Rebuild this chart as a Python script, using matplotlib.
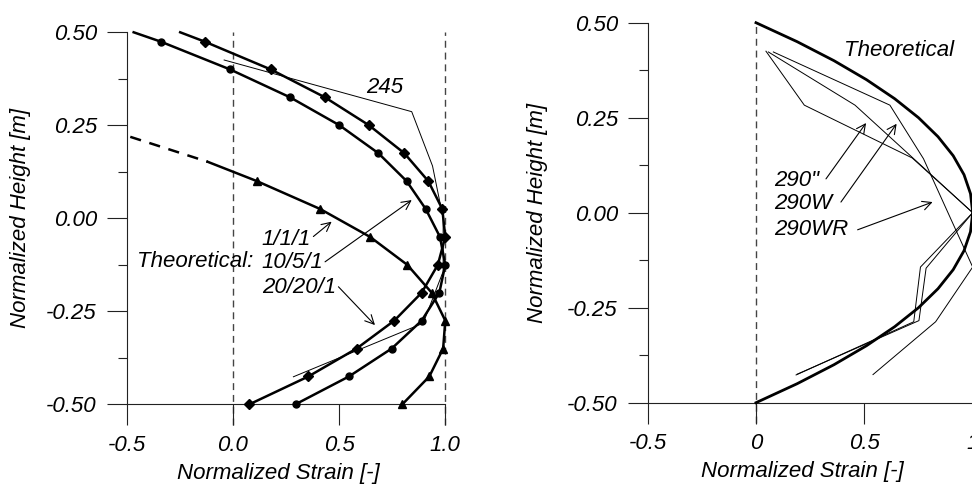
import numpy as np
import matplotlib
matplotlib.use("Agg")
import matplotlib.pyplot as plt

plt.rcParams['font.family'] = ['Liberation Sans', 'DejaVu Sans']
plt.rcParams['font.style'] = 'italic'
plt.rcParams['font.size'] = 16

# ---- left panel data ----
mk_y = [0.475, 0.4, 0.325, 0.25, 0.175, 0.1, 0.025, -0.05, -0.125, -0.2, -0.275, -0.35, -0.425, -0.5]
diam_start = (-0.248, 0.5)
diam_x = [-0.133, 0.179, 0.434, 0.641, 0.807, 0.920, 0.986, 1.0, 0.965, 0.889, 0.760, 0.583, 0.356, 0.078]
circ_start = (-0.467, 0.5)
circ_x = [-0.340, -0.0125, 0.270, 0.502, 0.685, 0.818, 0.908, 0.975, 1.0, 0.972, 0.889, 0.748, 0.547, 0.295]

tri_dash_x = [-0.483, -0.119]
tri_dash_y = [0.219, 0.152]
tri_y = [0.1, 0.025, -0.05, -0.125, -0.2, -0.275, -0.35, -0.425, -0.5]
tri_x = [0.113, 0.411, 0.646, 0.821, 0.936, 1.0, 0.99, 0.925, 0.798]

l245_x = [-0.041, 0.842, 0.940, 0.99, 0.99, 0.896, 0.285]
l245_y = [0.4255, 0.2866, 0.1406, 0.0, -0.143, -0.282, -0.426]

# ---- right panel data ----
theo_y = [0.5, 0.45, 0.4, 0.35, 0.3, 0.25, 0.2, 0.15, 0.1, 0.05, 0.0,
          -0.05, -0.1, -0.15, -0.2, -0.25, -0.3, -0.35, -0.4, -0.45, -0.5]
theo_x = [0.0, 0.19, 0.36, 0.51, 0.64, 0.75, 0.84, 0.91, 0.96, 0.99, 1.0,
          0.99, 0.96, 0.91, 0.84, 0.75, 0.64, 0.51, 0.36, 0.19, 0.0]

wA_x = [0.046, 0.223, 0.721, 1.0, 0.759, 0.728, 0.185]
wA_y = [0.425, 0.283, 0.144, 0.0, -0.143, -0.287, -0.427]
wB_x = [0.057, 0.457, 0.726, 1.0, 0.785, 0.752, 0.19]
wB_y = [0.423, 0.283, 0.143, 0.0, -0.146, -0.284, -0.425]
wC_x = [0.08, 0.618, 0.773, 0.886, 1.0, 0.829, 0.540]
wC_y = [0.423, 0.283, 0.142, 0.0, -0.143, -0.287, -0.426]

xt = [-0.5, 0.0, 0.5, 1.0]
yt = [-0.5, -0.25, 0.0, 0.25, 0.5]
yt_lab = ['-0.50', '-0.25', '0.00', '0.25', '0.50']
yt_minor = [-0.375, -0.125, 0.125, 0.375]
ref_x = [0.0, 1.0]

fig = plt.figure(figsize=(9.72, 4.87), dpi=100)


def style(ax, xlabels, dash_bottom):
    ax.set_xlim(-0.5, 1.0)
    ax.set_ylim(-0.5, 0.5)
    ax.patch.set_alpha(0)
    for s in ['top', 'right']:
        ax.spines[s].set_visible(False)
    for s in ['left', 'bottom']:
        ax.spines[s].set_linewidth(0.8)
        ax.spines[s].set_color('#222222')
    ax.set_xticks(xt)
    ax.set_xticklabels(xlabels)
    ax.set_yticks(yt)
    ax.set_yticklabels(yt_lab)
    ax.set_yticks(yt_minor, minor=True)
    ax.tick_params(axis='x', direction='out', length=15, width=0.8, pad=7, color='#222222')
    ax.tick_params(axis='y', which='major', direction='out', length=14.5, width=0.8, pad=7, color='#222222')
    ax.tick_params(axis='y', which='minor', direction='out', length=6.5, width=0.8, color='#222222')
    for x in ref_x:
        ax.axvline(x, ymin=dash_bottom, ymax=1.0, color='#444444', lw=1.0,
                   dashes=(5, 3.5), clip_on=False, zorder=1)


def arrow(ax, tail, tip):
    ax.annotate('', xy=tip, xytext=tail,
                arrowprops=dict(arrowstyle='->', lw=0.8, color='k',
                                mutation_scale=16, shrinkA=0, shrinkB=0))


# ---------------- left ----------------
ax1 = fig.add_axes([0.1303, 0.1698, 0.3278, 0.7639])
style(ax1, ['-0.5', '0.0', '0.5', '1.0'], -0.0556)

ax1.plot(l245_x, l245_y, color='k', lw=0.7, zorder=2, clip_on=False)
ax1.plot([diam_start[0]] + diam_x, [diam_start[1]] + mk_y, color='k', lw=1.8,
         clip_on=False, zorder=3)
ax1.plot(diam_x, mk_y, ls='none', marker='D', ms=5, color='k', clip_on=False, zorder=4)
ax1.plot([circ_start[0]] + circ_x, [circ_start[1]] + mk_y, color='k', lw=1.8,
         clip_on=False, zorder=3)
ax1.plot(circ_x, mk_y, ls='none', marker='o', ms=5, color='k', clip_on=False, zorder=4)
ax1.plot(tri_dash_x, tri_dash_y, color='k', lw=1.8, dashes=(4.5, 3.5), clip_on=False, zorder=3)
ax1.plot(tri_dash_x[-1:] + tri_x, tri_dash_y[-1:] + tri_y, color='k', lw=1.8,
         clip_on=False, zorder=3)
ax1.plot(tri_x, tri_y, ls='none', marker='^', ms=6, color='k', clip_on=False, zorder=4)

ax1.text(0.716, 0.352, '245', ha='center', va='center')
ax1.text(0.097, -0.117, 'Theoretical:', ha='right', va='center')
ax1.text(0.136, -0.056, '1/1/1', ha='left', va='center')
ax1.text(0.136, -0.119, '10/5/1', ha='left', va='center')
ax1.text(0.136, -0.187, '20/20/1', ha='left', va='center')
arrow(ax1, (0.379, -0.049), (0.465, -0.009))
arrow(ax1, (0.434, -0.117), (0.842, 0.049))
arrow(ax1, (0.497, -0.184), (0.669, -0.287))

ax1.set_xlabel('Normalized Strain [-]', va='center')
ax1.xaxis.set_label_coords(0.475, -0.1855)
ax1.set_ylabel('Normalized Height [m]', va='center')
ax1.yaxis.set_label_coords(-0.332, 0.5)

# ---------------- right ----------------
ax2 = fig.add_axes([0.6663, 0.1731, 0.3344, 0.7803])
style(ax2, ['-0.5', '0', '0.5', '1'], -0.054)

ax2.plot(theo_x, theo_y, color='k', lw=2.0, clip_on=False, zorder=3)
for xs, ys in [(wA_x, wA_y), (wB_x, wB_y), (wC_x, wC_y)]:
    ax2.plot(xs, ys, color='k', lw=0.7, clip_on=False, zorder=2)

ax2.text(0.661, 0.426, 'Theoretical', ha='center', va='center')
ax2.text(0.084, 0.085, '290"', ha='left', va='center')
ax2.text(0.084, 0.024, '290W', ha='left', va='center')
ax2.text(0.084, -0.043, '290WR', ha='left', va='center')
arrow(ax2, (0.323, 0.089), (0.508, 0.236))
arrow(ax2, (0.392, 0.028), (0.649, 0.234))
arrow(ax2, (0.469, -0.045), (0.815, 0.028))

ax2.set_xlabel('Normalized Strain [-]', va='center')
ax2.xaxis.set_label_coords(0.477, -0.1816)
ax2.set_ylabel('Normalized Height [m]', va='center')
ax2.yaxis.set_label_coords(-0.338, 0.5)

fig.savefig('out.png', dpi=100)
